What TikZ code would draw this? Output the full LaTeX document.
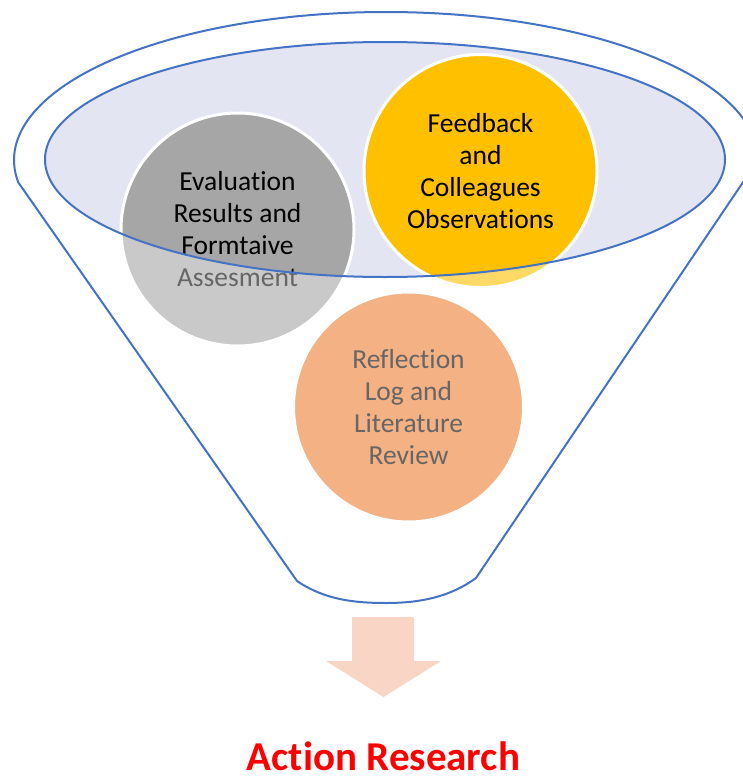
\documentclass[tikz,border=0pt]{standalone}
\usepackage{fontspec}
\setmainfont{Carlito}[Ligatures=NoCommon]
\definecolor{funnelblue}{RGB}{68,114,196}
\definecolor{lav}{RGB}{227,229,242}
\definecolor{cgray}{RGB}{166,166,166}
\definecolor{cyellow}{RGB}{255,192,0}
\definecolor{corange}{RGB}{237,125,49}
\definecolor{arrowpink}{RGB}{249,213,198}
\definecolor{actred}{RGB}{255,0,0}
\begin{document}
\begin{tikzpicture}[x=1pt,y=-1pt,
  bubble/.style={circle, draw=white, line width=3pt, minimum size=233pt, inner sep=0pt,
    align=center, font=\fontsize{27.5}{32}\selectfont, text=black},
  outline/.style={draw=funnelblue, line width=2pt}]
\useasboundingbox (0,0) rectangle (743,779);
\clip (0,0) rectangle (743,779);
\fill[white] (0,0) rectangle (743,779);
% inner ellipse fill
\fill[lav] (385,159.5) ellipse [x radius=340, y radius=117.5];
% circles
\node[bubble, fill=cgray] (eval) at (237.5,229.5) {Evaluation\\Results and\\Formtaive\\Assesment};
\node[bubble, fill=cyellow] (feed) at (480.5,171) {Feedback\\and\\Colleagues\\Observations};
\node[bubble, fill=corange, minimum size=230pt] (refl) at (408.5,407) {Reflection\\Log and\\Literature\\Review};
% white veil outside the opening
\fill[white, fill opacity=0.4, even odd rule] (-10,-10) rectangle (760,790)
  (385,159.5) ellipse [x radius=340, y radius=117.5];
% outlines
\draw[outline] (385,159.5) ellipse [x radius=340, y radius=117.5];
\draw[outline, line join=round] (18,182) -- (297,581)
  .. controls (325,600) and (355,603) .. (386,603)
  .. controls (420,603) and (450,597) .. (476,578)
  -- (758,160)
  arc [start angle=0, end angle=-188.55, x radius=372, y radius=148];
% arrow
\fill[arrowpink] (352,617) -- (414,617) -- (414,661) -- (441,661) -- (383.5,697)
  -- (326,661) -- (352,661) -- cycle;
\node[font=\bfseries\fontsize{41}{48}\selectfont, text=actred, anchor=base, inner sep=0pt] (title) at (383.5,770) {Action Research};
\end{tikzpicture}
\end{document}
